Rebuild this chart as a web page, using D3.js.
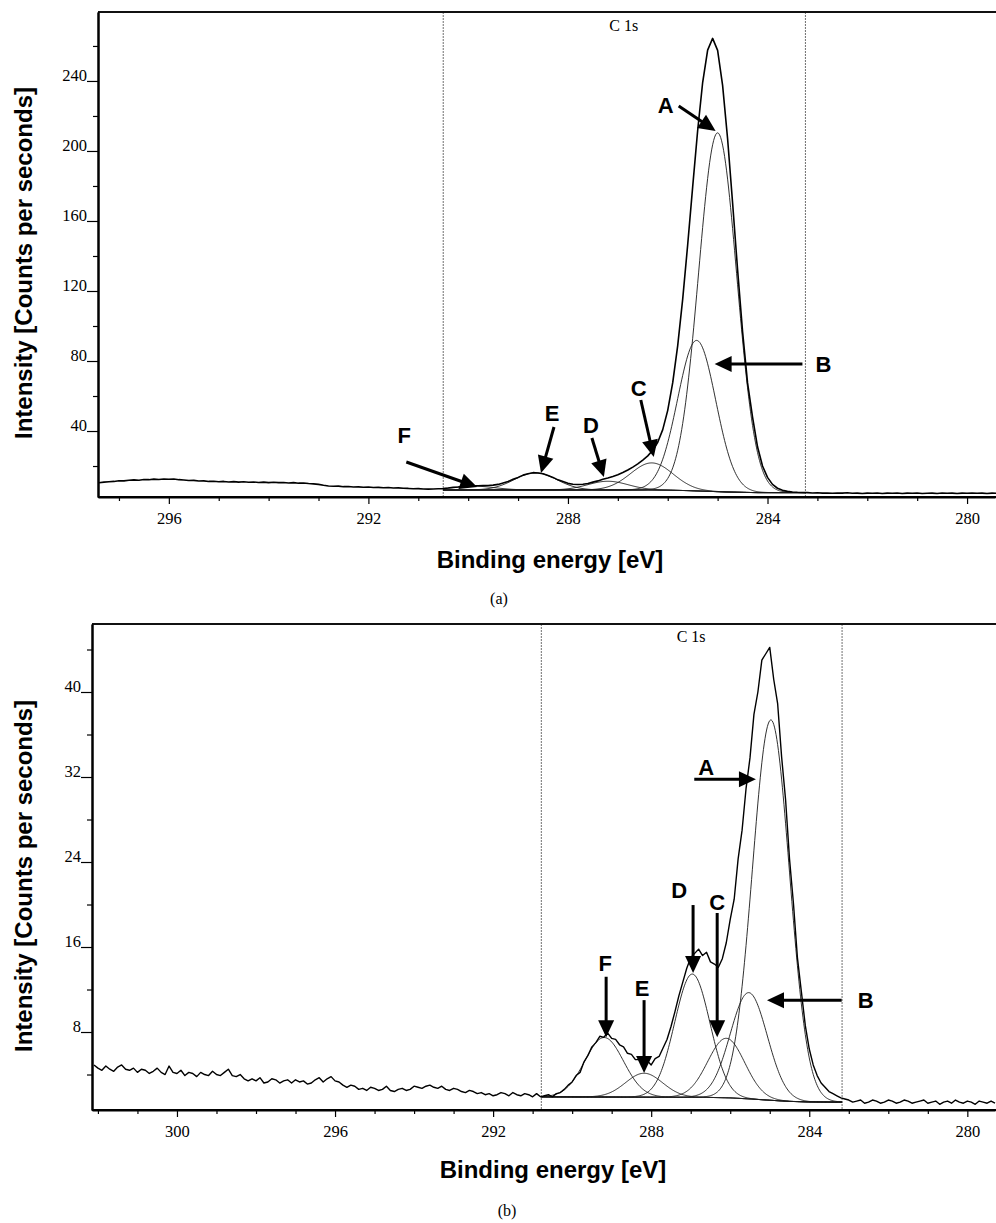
<!DOCTYPE html>
<html>
<head>
<meta charset="utf-8">
<script src="https://cdn.jsdelivr.net/npm/d3@7"></script>
<style>
  body { margin: 0; background: #fff; }
  svg { display: block; }
</style>
</head>
<body>
<svg id="chart" width="996" height="1223"></svg>
<script>
// ---------------- DATA ----------------
const xTitle = "Binding energy [eV]";
const yTitle = "Intensity [Counts per seconds]";
const regionLabel = "C 1s";
const panelCaptions = ["(a)", "(b)"];
const peakLabels = ["A", "B", "C", "D", "E", "F"];

// Panel (a): axis ranges and ticks
const xDomainA = [297.42, 279.44];
const yDomainA = [2.3, 279.4];
const xMajorTicksA = [296, 292, 288, 284, 280];
const yMajorTicksA = [40, 80, 120, 160, 200, 240];
const yMinorTicksA = [20, 60, 100, 140, 180, 220, 260];
const fitRegionA = [290.5, 283.24];

// Panel (a): measured spectrum, 0.1 eV steps from 297.4 eV down to 279.4 eV
const specStartA = 297.4, specStepA = 0.1;
const spectrumA = [
  10.4, 10.8, 11.0, 11.2, 11.6, 11.5, 11.9, 12.1, 11.9, 12.3,
  12.2, 12.5, 12.3, 12.6, 12.4, 12.6, 12.2, 12.0, 11.7, 11.8,
  11.4, 11.5, 11.2, 11.3, 11.0, 11.2, 10.9, 11.1, 10.8, 11.0,
  10.7, 10.9, 10.6, 10.8, 10.5, 10.7, 10.5, 10.6, 10.3, 10.5,
  10.2, 10.3, 10.0, 9.8, 9.5, 9.0, 8.6, 8.4, 8.5, 8.2,
  8.3, 8.0, 8.1, 7.9, 8.0, 7.7, 7.8, 7.6, 7.7, 7.4,
  7.5, 7.3, 7.2, 7.0, 7.1, 6.9, 6.8, 6.9, 7.0, 7.1,
  7.4, 7.8, 8.0, 8.4, 8.5, 8.7, 8.7, 8.8, 8.9, 9.1,
  9.5, 10.3, 11.1, 12.4, 13.5, 14.8, 15.6, 16.2, 16.0, 15.6,
  14.6, 13.5, 12.1, 11.1, 10.1, 9.6, 9.4, 9.6, 10.0, 10.8,
  11.5, 12.4, 13.1, 14.0, 15.0, 16.3, 17.7, 19.4, 21.2, 23.4,
  25.8, 29.0, 33.6, 40.8, 51.8, 67.6, 88.8, 115.4, 146.4, 179.5,
  211.7, 239.1, 257.6, 264.3, 257.5, 237.5, 207.0, 170.4, 132.2, 96.8,
  67.5, 48.0, 31.0, 20.0, 13.5, 9.5, 7.3, 6.1, 5.5, 5.2,
  5.0, 4.9, 4.8, 4.6, 4.7, 4.5, 4.6, 4.4, 4.6, 4.5,
  4.7, 4.4, 4.5, 4.3, 4.5, 4.4, 4.6, 4.3, 4.5, 4.4,
  4.6, 4.3, 4.5, 4.4, 4.6, 4.3, 4.4, 4.5, 4.3, 4.6,
  4.4, 4.5, 4.3, 4.5, 4.4, 4.6, 4.4, 4.5, 4.3, 4.5,
  4.4
];
// Panel (a): background under the fit (energy / intensity)
const bgEnergyA = [290.5, 286.4, 286.0, 285.6, 285.2, 284.8, 284.4, 284.2, 283.2];
const bgValueA  = [6.3, 6.3, 6.2, 5.95, 5.55, 5.15, 4.9, 4.8, 4.8];
// Panel (a): fitted component peaks A..F
const peakCenterA = [285.0, 285.42, 286.32, 287.2, 288.65, 289.9];
const peakHeightA = [205, 86, 15.5, 5.0, 9.8, 2.2];
const peakFwhmA   = [0.9, 0.9, 1.0, 0.95, 1.0, 1.0];
// Panel (a): annotation arrows (label / tail / tip in data units)
const labelEA = [286.04, 282.88, 286.58, 287.54, 288.32, 291.28];
const labelVA = [226.3, 78.3, 64.6, 43.4, 50.3, 37.7];
const tailEA  = [285.78, 283.3, 286.54, 287.52, 288.28, 291.24];
const tailVA  = [225.7, 78.3, 57.7, 36.0, 42.3, 22.3];
const tipEA   = [285.04, 285.06, 286.28, 287.28, 288.54, 289.82];
const tipVA   = [211.4, 78.3, 25.1, 13.7, 16.0, 8.0];
const regionLabelPosA = [286.88, 268.6];

// Panel (b): axis ranges and ticks
const xDomainB = [302.15, 279.3];
const yDomainB = [0.66, 46.4];
const xMajorTicksB = [300, 296, 292, 288, 284, 280];
const yMajorTicksB = [8, 16, 24, 32, 40];
const yMinorTicksB = [4, 12, 20, 28, 36, 44];
const fitRegionB = [290.78, 283.17];

// Panel (b): measured spectrum, 0.1 eV steps from 302.1 eV down to 279.3 eV
const specStartB = 302.1, specStepB = 0.1;
const spectrumB = [
  4.9, 4.6, 4.4, 4.8, 4.5, 4.3, 4.7, 4.9, 4.5, 4.4,
  4.6, 4.2, 4.5, 4.4, 4.1, 4.3, 4.6, 4.2, 4.0, 4.8,
  4.2, 4.1, 4.4, 3.9, 4.2, 4.1, 3.8, 4.2, 4.0, 3.9,
  4.3, 4.0, 3.9, 4.2, 4.5, 3.9, 3.8, 4.0, 3.6, 3.4,
  3.6, 3.4, 3.7, 3.2, 3.3, 3.6, 3.5, 3.2, 3.4, 3.5,
  3.2, 3.5, 3.3, 3.4, 3.1, 3.2, 3.5, 3.7, 3.3, 3.6,
  3.8, 3.4, 3.3, 3.0, 2.8, 3.0, 2.9, 2.6, 2.7, 2.5,
  2.8, 2.7, 2.5, 2.6, 2.9, 2.5, 2.4, 2.6, 2.7, 2.5,
  2.6, 2.9, 2.8, 2.7, 2.9, 3.0, 2.8, 2.7, 2.9, 2.6,
  2.5, 2.7, 2.6, 2.4, 2.3, 2.5, 2.4, 2.2, 2.3, 2.1,
  2.2, 2.0, 2.1, 2.3, 2.2, 2.0, 2.3, 2.1, 2.0, 2.2,
  2.1, 1.9, 2.2, 1.9, 2.0, 2.1, 1.9, 2.2, 2.3, 2.6,
  3.0, 3.3, 3.9, 4.2, 5.2, 5.8, 6.6, 7.0, 7.6, 7.5,
  7.9, 7.4, 7.3, 6.8, 6.6, 6.0, 5.9, 5.4, 5.4, 5.0,
  5.3, 4.9, 5.5, 5.7, 6.5, 7.3, 8.5, 9.9, 11.4, 12.7,
  14.0, 15.0, 15.4, 15.8, 15.2, 15.5, 14.6, 14.4, 14.1, 14.9,
  16.4, 18.6, 20.5, 24.3, 27.0, 30.9, 33.8, 37.9, 40.0, 43.0,
  43.6, 44.2, 41.2, 38.9, 33.9, 29.9, 24.3, 20.1, 15.0, 11.8,
  8.6, 6.4, 4.9, 3.9, 3.2, 2.8, 2.4, 2.2, 2.0, 1.8,
  1.7, 1.6, 1.4, 1.5, 1.6, 1.3, 1.4, 1.6, 1.5, 1.3,
  1.4, 1.6, 1.5, 1.3, 1.4, 1.6, 1.5, 1.3, 1.4, 1.5,
  1.6, 1.3, 1.4, 1.5, 1.2, 1.4, 1.5, 1.3, 1.6, 1.4,
  1.3, 1.5, 1.4, 1.2, 1.5, 1.4, 1.3, 1.5, 1.3
];
const bgEnergyB = [290.78, 286.6, 286.0, 285.5, 285.0, 284.5, 284.0, 283.17];
const bgValueB  = [1.9, 1.85, 1.8, 1.7, 1.58, 1.47, 1.42, 1.4];
const peakCenterB = [284.97, 285.53, 286.10, 286.96, 288.18, 289.19];
const peakHeightB = [35.8, 10.0, 5.6, 11.6, 2.25, 5.6];
const peakFwhmB   = [1.1, 1.1, 1.1, 1.05, 1.1, 1.15];
const labelEB = [286.61, 282.57, 286.33, 287.29, 288.23, 289.16];
const labelVB = [32.9, 11.0, 20.2, 21.4, 12.1, 14.5];
const tailEB  = [286.91, 283.18, 286.33, 286.94, 288.18, 289.14];
const tailVB  = [31.8, 11.0, 19.2, 19.95, 11.0, 13.2];
const tipEB   = [285.35, 285.07, 286.33, 286.94, 288.18, 289.14];
const tipVB   = [31.8, 11.0, 7.5, 13.55, 4.14, 7.5];
const regionLabelPosB = [286.99, 44.7];

// ---------------- DRAWING ----------------
const SANS = "'Liberation Sans', Arial, Helvetica, sans-serif";
const SERIF = "'Liberation Serif', 'Times New Roman', Times, serif";
const svg = d3.select("#chart");
const defs = svg.append("defs");
const GK = 4 * Math.LN2;

function drawPanel(c) {
  const x = d3.scaleLinear().domain(c.xDomain).range([c.left, c.right]);
  const y = d3.scaleLinear().domain(c.yDomain).range([c.bottom, c.top]);
  const g = svg.append("g");

  defs.append("clipPath").attr("id", c.id).append("rect")
    .attr("x", c.left).attr("y", c.top)
    .attr("width", 996 - c.left).attr("height", c.bottom - c.top);

  // fit region boundaries
  g.selectAll("line.region").data(c.region).enter().append("line")
    .attr("x1", d => x(d)).attr("x2", d => x(d))
    .attr("y1", c.top).attr("y2", c.bottom)
    .attr("stroke", "#707070").attr("stroke-width", 1)
    .attr("stroke-dasharray", "2,1");

  // frame top
  g.append("line").attr("x1", c.left).attr("x2", 996)
    .attr("y1", c.top).attr("y2", c.top)
    .attr("stroke", "#111").attr("stroke-width", 1.8);

  const plot = g.append("g").attr("clip-path", `url(#${c.id})`);
  const line = d3.line().x(d => x(d[0])).y(d => y(d[1]));
  const bg = d3.scaleLinear().domain(c.bgE).range(c.bgV).clamp(true);
  const fitE = d3.range(c.region[0], c.region[1], -0.02).concat([c.region[1]]);

  plot.append("path")
    .attr("d", line(fitE.map(e => [e, bg(e)])))
    .attr("fill", "none").attr("stroke", "#222").attr("stroke-width", 0.9);

  c.centers.forEach((ctr, i) => {
    const h = c.heights[i], w = c.fwhm[i];
    const pts = fitE.map(e => [e, bg(e) + h * Math.exp(-GK * ((e - ctr) / w) ** 2)]);
    plot.append("path").attr("d", line(pts))
      .attr("fill", "none").attr("stroke", "#1a1a1a").attr("stroke-width", 0.9);
  });

  const meas = c.spec.map((v, i) => [c.specStart - i * c.specStep, v]);
  plot.append("path").attr("d", line(meas))
    .attr("fill", "none").attr("stroke", "#000")
    .attr("stroke-width", c.measWidth).attr("stroke-linejoin", "round");

  // axes
  const lo = Math.ceil(Math.min(...c.xDomain)), hi = Math.floor(Math.max(...c.xDomain));
  const xMinor = d3.range(lo, hi + 1).filter(v => !c.xMajor.includes(v));
  const ax1 = g.append("g").attr("transform", `translate(0,${c.bottom})`)
    .call(d3.axisBottom(x).tickValues(xMinor).tickSize(4).tickSizeOuter(0).tickFormat(""));
  const ax2 = g.append("g").attr("transform", `translate(0,${c.bottom})`)
    .call(d3.axisBottom(x).tickValues(c.xMajor).tickSize(7).tickPadding(8).tickSizeOuter(0).tickFormat(d3.format("d")));
  const ay1 = g.append("g").attr("transform", `translate(${c.left},0)`)
    .call(d3.axisLeft(y).tickValues(c.yMinor).tickSize(5).tickSizeOuter(0).tickFormat(""));
  const ay2 = g.append("g").attr("transform", `translate(${c.left},0)`)
    .call(d3.axisLeft(y).tickValues(c.yMajor).tickSize(11).tickPadding(0).tickSizeOuter(0).tickFormat(d3.format("d")));
  [ax1, ax2, ay1, ay2].forEach(a => {
    a.select(".domain").attr("stroke", "#000").attr("stroke-width", 2);
    a.selectAll(".tick line").attr("stroke", "#000").attr("stroke-width", 1.2);
    a.selectAll("text").attr("font-family", SERIF).attr("font-size", 16.5).attr("fill", "#000");
  });
  ay2.selectAll("text").attr("dy", "-0.02em");
  ax1.select(".domain").attr("d", `M${c.left},0H996`);

  // region label
  g.append("text").attr("x", x(c.regionLabelPos[0])).attr("y", y(c.regionLabelPos[1]))
    .attr("text-anchor", "middle").attr("font-family", SERIF).attr("font-size", 16)
    .text(regionLabel);

  // arrows and letters
  peakLabels.forEach((lab, i) => {
    const tx = x(c.tailE[i]), ty = y(c.tailV[i]);
    const hx = x(c.tipE[i]), hy = y(c.tipV[i]);
    const ang = Math.atan2(hy - ty, hx - tx);
    const L = 17, W = 8;
    const bx = hx - L * Math.cos(ang), by = hy - L * Math.sin(ang);
    const px = -Math.sin(ang) * W, py = Math.cos(ang) * W;
    g.append("line").attr("x1", tx).attr("y1", ty)
      .attr("x2", bx + 2 * Math.cos(ang)).attr("y2", by + 2 * Math.sin(ang))
      .attr("stroke", "#000").attr("stroke-width", 3);
    g.append("polygon")
      .attr("points", `${hx},${hy} ${bx + px},${by + py} ${bx - px},${by - py}`)
      .attr("fill", "#000");
    g.append("text").attr("x", x(c.labelE[i])).attr("y", y(c.labelV[i]))
      .attr("dy", "0.36em").attr("text-anchor", "middle")
      .attr("font-family", SANS).attr("font-weight", "bold").attr("font-size", 22)
      .text(lab);
  });

  // axis titles
  svg.append("text").attr("x", c.xTitlePos[0]).attr("y", c.xTitlePos[1])
    .attr("text-anchor", "middle").attr("font-family", SANS).attr("font-weight", "bold")
    .attr("font-size", 24).text(xTitle);
  svg.append("text")
    .attr("transform", `translate(${c.yTitlePos[0]},${c.yTitlePos[1]}) rotate(-90)`)
    .attr("text-anchor", "middle").attr("font-family", SANS).attr("font-weight", "bold")
    .attr("font-size", 24).text(yTitle);
  svg.append("text").attr("x", c.captionPos[0]).attr("y", c.captionPos[1])
    .attr("text-anchor", "middle").attr("font-family", SERIF).attr("font-size", 16)
    .text(c.caption);
}

drawPanel({
  id: "clipA", left: 98, right: 995, top: 12, bottom: 497,
  xDomain: xDomainA, yDomain: yDomainA,
  xMajor: xMajorTicksA, yMajor: yMajorTicksA, yMinor: yMinorTicksA,
  region: fitRegionA, bgE: bgEnergyA, bgV: bgValueA,
  centers: peakCenterA, heights: peakHeightA, fwhm: peakFwhmA,
  spec: spectrumA, specStart: specStartA, specStep: specStepA, measWidth: 1.6,
  labelE: labelEA, labelV: labelVA, tailE: tailEA, tailV: tailVA, tipE: tipEA, tipV: tipVA,
  regionLabelPos: regionLabelPosA,
  xTitlePos: [550, 568], yTitlePos: [32, 263], captionPos: [499, 604], caption: panelCaptions[0]
});
drawPanel({
  id: "clipB", left: 92, right: 995, top: 624, bottom: 1110,
  xDomain: xDomainB, yDomain: yDomainB,
  xMajor: xMajorTicksB, yMajor: yMajorTicksB, yMinor: yMinorTicksB,
  region: fitRegionB, bgE: bgEnergyB, bgV: bgValueB,
  centers: peakCenterB, heights: peakHeightB, fwhm: peakFwhmB,
  spec: spectrumB, specStart: specStartB, specStep: specStepB, measWidth: 1.4,
  labelE: labelEB, labelV: labelVB, tailE: tailEB, tailV: tailVB, tipE: tipEB, tipV: tipVB,
  regionLabelPos: regionLabelPosB,
  xTitlePos: [553, 1178], yTitlePos: [32, 876], captionPos: [507, 1216], caption: panelCaptions[1]
});
</script>
</body>
</html>
